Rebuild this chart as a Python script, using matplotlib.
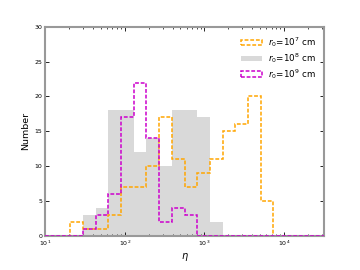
import numpy as np
import matplotlib
matplotlib.use("Agg")
import matplotlib.pyplot as plt

# log-spaced eta bins, 10^1 .. 10^4.5
bordes = np.logspace(1, 4.5, 23)

# counts per bin
n_r7 = [0, 0, 2, 1, 1, 3, 7, 7, 10, 17, 11, 7, 9, 11, 15, 16, 20, 5, 0, 0, 0, 0]
n_r8 = [0, 0, 0, 3, 4, 18, 18, 12, 14, 10, 18, 18, 17, 2, 0, 0, 0, 0, 0, 0, 0, 0]
n_r9 = [0, 0, 0, 1, 3, 6, 17, 22, 14, 2, 4, 3, 0, 0, 0, 0, 0, 0, 0, 0, 0, 0]

etiquetas = [r"$r_0$=10$^7$ cm", r"$r_0$=10$^8$ cm", r"$r_0$=10$^9$ cm"]

fig, ax = plt.subplots(figsize=(3.6, 2.7), dpi=100)
fig.subplots_adjust(left=0.125, right=0.9, bottom=0.126, top=0.901)

centros = bordes[:-1]
guion = (0, (2.5, 1.2))
ax.hist(centros, bins=bordes, weights=n_r7, histtype="step", color="orange",
        linestyle=guion, linewidth=1.1, label=etiquetas[0], zorder=2)
ax.hist(centros, bins=bordes, weights=n_r8, histtype="stepfilled", color="#d9d9d9",
        linewidth=0, label=etiquetas[1], zorder=1)
ax.hist(centros, bins=bordes, weights=n_r9, histtype="step", color="#cc00cc",
        linestyle=guion, linewidth=1.1, label=etiquetas[2], zorder=3)

ax.set_xscale("log")
ax.set_xlim(10, 10**4.5)
ax.set_ylim(0, 30)
ax.set_yticks([0, 5, 10, 15, 20, 25, 30])

ax.set_xlabel(r"$\eta$", fontsize=7, labelpad=2)
ax.set_ylabel("Number", fontsize=6.8, labelpad=3)

ax.tick_params(which="both", direction="in", top=True, right=True, labelsize=4.5, pad=2)
ax.tick_params(which="major", length=3, width=0.6)
ax.tick_params(which="minor", length=1.5, width=0.5)
for sp in ax.spines.values():
    sp.set_color("#999999")
    sp.set_linewidth(1.5)

ax.legend(loc="upper right", frameon=False, fontsize=6.3, handlelength=2.4,
          handleheight=0.55, handletextpad=0.6, labelspacing=0.2, borderaxespad=0.6)

fig.savefig("out.png", dpi=100)
